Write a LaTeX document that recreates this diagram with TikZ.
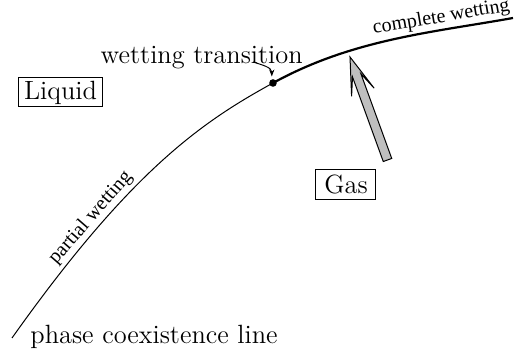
\documentclass[tikz,border=0pt]{standalone}
\usepackage{fontspec}
\newfontfamily\timesf{Liberation Serif}
\usetikzlibrary{arrows.meta}
\begin{document}
\begin{tikzpicture}[x=0.5pt,y=0.5pt,
  bigtext/.style={font=\fontsize{13.2}{15}\selectfont},
  smalltext/.style={font=\timesf\fontsize{10}{12}\selectfont},
  phasebox/.style={draw, line width=0.5pt, inner sep=0pt, bigtext},
  thinline/.style={line width=0.5pt},
  thickline/.style={line width=1.1pt},
  ]
\useasboundingbox (0,0) rectangle (516,356);
\coordinate (start) at (12,18);
\coordinate (end) at (513,338);
\node[circle, fill, inner sep=0pt, minimum size=3.8pt] (dot) at (273,273) {};
\draw[thinline] (start) .. controls (132,187.2) and (203,234.5) .. (dot.center)
  node[pos=0.27, sloped, above, smalltext, inner sep=1pt] (pw) {partial wetting};
\draw[thickline] (dot.center) .. controls (353,317) and (433,323.6) .. (end)
  node[pos=0.71, sloped, above, smalltext, inner sep=1pt] (cw) {complete wetting};
\node[bigtext, anchor=base] (wt) at (201.7,292.7) {wetting transition};
\node[bigtext, anchor=base west, inner sep=0pt] (pcl) at (30,12.7) {phase coexistence line};
\node[phasebox, minimum width=42pt, minimum height=14.5pt] (liq) at (60.5,263.5) {Liquid};
\node[phasebox, minimum width=30pt, minimum height=14.75pt] (gas) at (346,171.4) {Gas};
\coordinate (ws) at (253,294);
\coordinate (wtip) at (271.8,279.5);
\draw[thinline, -{Stealth[length=3.5pt,width=2.6pt]}] (ws) to[out=-18,in=90] (wtip);
\draw[fill=black!25, line width=0.5pt] (383.27,194.46) -- (352.49,279.06) -- (351.6,259.58)
  -- (350,299) -- (374.16,267.78) -- (360.95,282.14) -- (391.73,197.54) -- cycle;
\end{tikzpicture}
\end{document}
